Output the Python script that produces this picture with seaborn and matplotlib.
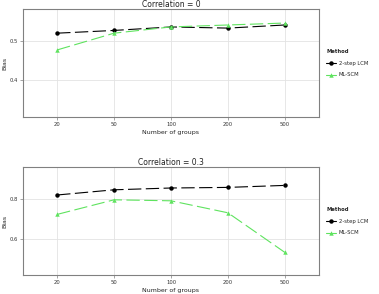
import matplotlib
matplotlib.use("Agg")
import matplotlib.pyplot as plt
import seaborn as sns
import pandas as pd
from matplotlib.lines import Line2D

groups = ["20", "50", "100", "200", "500"]
methods = ["2-step LCM", "ML-SCM"]
lcm_r0 = [0.520, 0.527, 0.536, 0.533, 0.541]
ml_r0 = [0.477, 0.520, 0.536, 0.541, 0.546]
lcm_r3 = [0.820, 0.846, 0.855, 0.858, 0.868]
ml_r3 = [0.723, 0.796, 0.791, 0.731, 0.533]
titles = ["Correlation = 0", "Correlation = 0.3"]
yticks_top = [0.4, 0.5]
yticks_bot = [0.6, 0.8]

colors = {"2-step LCM": "black", "ML-SCM": "#5fe35f"}
markers = {"2-step LCM": "o", "ML-SCM": "^"}

sns.set_theme(style="white")
plt.rcParams['font.family'] = ['DejaVu Sans']

fig = plt.figure(figsize=(3.79, 2.94), dpi=100)
ax_top = fig.add_axes([23/379, 1-117/294, 296/379, 108/294])
ax_bot = fig.add_axes([23/379, 1-275/294, 296/379, 108/294])

panels = [
    (ax_top, lcm_r0, ml_r0, titles[0], yticks_top, (0.305, 0.582)),
    (ax_bot, lcm_r3, ml_r3, titles[1], yticks_bot, (0.42, 0.96)),
]

for ax, lcm, ml, title, yt, ylim in panels:
    df = pd.DataFrame({
        "groups": groups * 2,
        "Bias": lcm + ml,
        "Method": [methods[0]] * 5 + [methods[1]] * 5,
    })
    for m in methods:
        sub = df[df["Method"] == m]
        sns.lineplot(data=sub, x="groups", y="Bias", ax=ax, color=colors[m],
                     marker=markers[m], markersize=3.2, markeredgewidth=0,
                     linewidth=0.8, dashes=False, legend=False, sort=False)
        ax.lines[-1].set_dashes((12, 4))
    ax.set_xlim(-0.6, 4.6)
    ax.set_ylim(*ylim)
    ax.set_yticks(yt)
    ax.set_yticklabels([f"{v:.1f}" for v in yt])
    ax.grid(True, color="#e3e3e3", linewidth=0.6)
    ax.set_axisbelow(True)
    for s in ax.spines.values():
        s.set_color("#808080")
        s.set_linewidth(0.8)
    ax.tick_params(axis="both", labelsize=3.8, length=2, width=0.5,
                   color="#808080", pad=1.5, labelcolor="#333333", bottom=True, left=True)
    ax.set_title(title, fontsize=5.5, pad=1.5, color="#222222")
    ax.set_xlabel("Number of groups", fontsize=4.5, labelpad=2, color="#222222")
    ax.set_ylabel("Bias", fontsize=4.5, labelpad=1.5, color="#222222")
    handles = [Line2D([0], [0], color=colors[m], marker=markers[m], markersize=3.2,
                      markeredgewidth=0, linewidth=0.8) for m in methods]
    leg = ax.legend(handles, methods, title="Method", loc="center left",
                    bbox_to_anchor=(1.025, 0.5), frameon=False, fontsize=3.8,
                    title_fontproperties={"size": 3.8, "weight": "bold"},
                    handlelength=1.8, handletextpad=0.5, labelspacing=1.3,
                    borderaxespad=0, borderpad=0)
    leg._legend_box.align = "left"

fig.savefig("out.png", dpi=100)
